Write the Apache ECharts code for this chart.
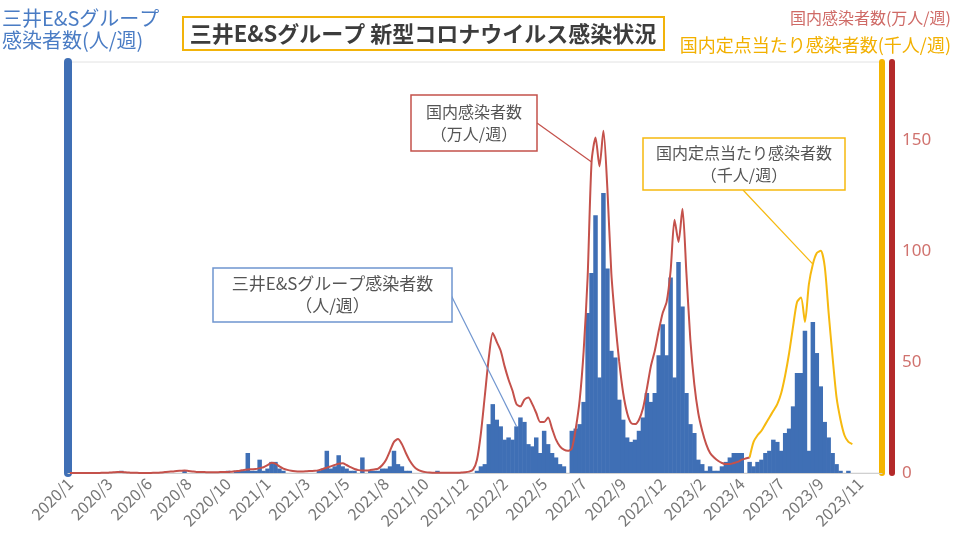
<!DOCTYPE html>
<html>
<head>
<meta charset="utf-8">
<script src="https://cdn.jsdelivr.net/npm/echarts@6/dist/echarts.min.js"></script>
<style>
  html, body { margin: 0; padding: 0; background: #fff; }
  #chart { width: 966px; height: 540px; }
</style>
</head>
<body>
<div id="chart"></div>
<script>
const FONT = '"Noto Sans CJK JP", "Noto Sans", sans-serif';

// weekly categories start on 2020/1/20, one tick label every 10 weeks
const firstWeek = [2020, 0, 20];
const weekCount = 206;
const tickEvery = 10;
const tickLabels = [
  "2020/1", "2020/3", "2020/6", "2020/8", "2020/10", "2021/1", "2021/3",
  "2021/5", "2021/8", "2021/10", "2021/12", "2022/2", "2022/5", "2022/7",
  "2022/9", "2022/12", "2023/2", "2023/4", "2023/7", "2023/9", "2023/11",
];

// 三井E&Sグループ感染者数（人/週）
const mitsuiCases = [
  0, 0, 0, 0, 0, 0, 0, 0, 0, 0,
  0, 0, 0, 1, 0, 0, 0, 0, 0, 0,
  0, 0, 0, 0, 0, 0, 0, 0, 0, 1,
  0, 0, 0, 0, 0, 0, 0, 0, 0, 0,
  1, 0, 1, 1, 1, 9, 1, 1, 6, 1,
  2, 5, 5, 2, 1, 0, 0, 0, 0, 0,
  0, 0, 0, 1, 2, 10, 2, 3, 8, 3,
  2, 1, 1, 0, 7, 0, 1, 1, 1, 2,
  2, 3, 10, 4, 3, 1, 1, 0, 0, 0,
  0, 0, 0, 1, 0, 0, 0, 0, 0, 0,
  0, 0, 0, 1, 3, 4, 22, 31, 24, 21,
  15, 16, 15, 21, 25, 23, 13, 12, 16, 9,
  19, 13, 9, 7, 4, 3, 0, 19, 20, 22,
  32, 72, 90, 116, 43, 126, 92, 55, 52, 33,
  24, 16, 14, 15, 19, 25, 36, 32, 36, 53,
  67, 53, 88, 43, 95, 75, 36, 22, 18, 6,
  4, 1, 3, 1, 1, 3, 5, 7, 9, 9,
  9, 0, 5, 3, 5, 6, 9, 10, 15, 14,
  10, 18, 20, 30, 45, 45, 64, 10, 68, 54,
  39, 23, 16, 9, 4, 1, 0, 1, 0, 0,
  0, 0, 0, 0, 0, 0,
];

// 国内感染者数（万人/週）, reported until week 172
const nationalCases = [
  0, 0, 0, 0, 0, 0, 0, 0, 0.1, 0.1,
  0.2, 0.3, 0.4, 0.4, 0.3, 0.2, 0.1, 0.1, 0, 0,
  0, 0.1, 0.1, 0.2, 0.4, 0.6, 0.7, 0.9, 1.0, 1.1,
  0.9, 0.7, 0.5, 0.4, 0.4, 0.35, 0.35, 0.35, 0.4, 0.4,
  0.5, 0.6, 0.8, 1.0, 1.4, 1.6, 1.7, 1.8, 2.2, 2.6,
  3.5, 4.6, 4.2, 3.0, 2.0, 1.4, 1.0, 0.8, 0.7, 0.7,
  0.8, 0.9, 1.0, 1.3, 1.8, 2.4, 3.0, 3.6, 4.2, 4.4,
  3.6, 2.6, 1.8, 1.3, 1.1, 1.1, 1.3, 1.6, 2.0, 3.5,
  6, 10, 14, 15.3, 13, 9, 5.5, 3, 1.5, 0.8,
  0.4, 0.2, 0.15, 0.1, 0.1, 0.1, 0.1, 0.1, 0.1, 0.2,
  0.3, 0.6, 1.5, 6, 18, 35, 52, 63, 59, 55,
  48, 42, 37, 31, 30, 33, 34, 31, 27, 23,
  23, 25, 20, 15, 12, 10.5, 10, 11, 20, 33,
  55, 88, 140, 151, 138, 154, 128, 90, 68, 50,
  36, 27, 22.5, 22, 24, 29, 38, 48, 55, 64,
  72, 77, 91, 114, 104, 119, 90, 60, 40, 27,
  19, 13, 9, 7, 5.5, 4.5, 4, 4, 4.5, 5,
  6, 6.5, 7,
];

// 国内定点当たり感染者数（千人/週）, from week 172
const sentinelStart = 172;
const sentinelCases = [
  7, 14, 17, 19, 22, 25, 28, 31, 36, 44,
  54, 66, 77, 79, 68, 85, 94, 99, 100, 93,
  72, 52, 34, 24, 17, 14, 13,
];

const BLUE = "#3f6fb5";
const RED = "#c4514b";
const RED_AXIS = "#b42a2a";
const YELLOW = "#f6b90f";
const YELLOW_AXIS = "#f4b400";

function buildWeeks() {
  const out = [];
  for (let i = 0; i < weekCount; i++) {
    const d = new Date(firstWeek[0], firstWeek[1], firstWeek[2] + i * 7);
    out.push(`${d.getFullYear()}/${d.getMonth() + 1}/${d.getDate()}`);
  }
  return out;
}

const weeks = buildWeeks();
const nationalData = weeks.map((_, i) => (i < nationalCases.length ? nationalCases[i] : null));
const sentinelData = weeks.map((_, i) => {
  const k = i - sentinelStart;
  return k >= 0 && k < sentinelCases.length ? sentinelCases[k] : null;
});

const chart = echarts.init(document.getElementById("chart"));

const option = {
  animation: false,
  backgroundColor: "#fff",
  textStyle: { fontFamily: FONT },
  grid: {
    left: 68,
    right: 84,
    top: 62,
    bottom: 67,
    show: true,
    borderColor: "#e2e2e2",
    borderWidth: 1,
  },
  xAxis: {
    type: "category",
    data: weeks,
    boundaryGap: true,
    axisLine: { lineStyle: { color: "#d0d0d0", width: 1 } },
    axisTick: { show: false },
    axisLabel: {
      interval: (idx) => idx % tickEvery === 0,
      formatter: (val, idx) => tickLabels[idx / tickEvery] || "",
      rotate: 45,
      margin: 8,
      color: "#777",
      fontSize: 16,
      fontFamily: FONT,
    },
    splitLine: { show: false },
  },
  yAxis: [
    {
      type: "value",
      position: "left",
      min: 0,
      max: 185,
      axisLine: { show: true, lineStyle: { color: BLUE, width: 8 } },
      axisTick: { show: false },
      axisLabel: { show: false },
      splitLine: { show: false },
    },
    {
      type: "value",
      position: "right",
      min: 0,
      max: 185,
      axisLine: { show: true, lineStyle: { color: YELLOW_AXIS, width: 6 } },
      axisTick: { show: false },
      axisLabel: { show: false },
      splitLine: { show: false },
    },
    {
      type: "value",
      position: "right",
      offset: 10,
      min: 0,
      max: 185,
      interval: 50,
      axisLine: { show: true, lineStyle: { color: RED_AXIS, width: 6 } },
      axisTick: { show: false },
      axisLabel: {
        showMaxLabel: false,
        margin: 10,
        color: "#d0726e",
        fontSize: 17,
        fontFamily: "Noto Sans",
      },
      splitLine: { show: false },
    },
  ],
  series: [
    {
      name: "三井E&Sグループ感染者数",
      type: "bar",
      yAxisIndex: 0,
      data: mitsuiCases,
      barWidth: 4.5,
      itemStyle: { color: BLUE },
    },
    {
      name: "国内感染者数",
      type: "line",
      yAxisIndex: 2,
      data: nationalData,
      smooth: 0.25,
      symbol: "none",
      lineStyle: { color: RED, width: 2 },
    },
    {
      name: "国内定点当たり感染者数",
      type: "line",
      yAxisIndex: 1,
      data: sentinelData,
      smooth: 0.25,
      symbol: "none",
      lineStyle: { color: YELLOW, width: 2 },
    },
  ],
};

chart.setOption(option);

// annotation boxes with leader lines pointing into the series
function callout(box, color, lines, fontSize, target) {
  const end = chart.convertToPixel({ seriesIndex: target.series }, [target.index, target.value]);
  const start = target.from;
  return [
    {
      type: "line",
      z: 50,
      shape: { x1: start[0], y1: start[1], x2: end[0], y2: end[1] },
      style: { stroke: color, lineWidth: 1.2 },
    },
    {
      type: "rect",
      z: 51,
      shape: { x: box[0], y: box[1], width: box[2], height: box[3] },
      style: { fill: "#fff", stroke: color, lineWidth: 1.5 },
    },
    {
      type: "text",
      z: 52,
      x: box[0] + box[2] / 2,
      y: box[1] + box[3] / 2,
      style: {
        text: lines.join("\n"),
        font: `${fontSize}px ${FONT}`,
        fill: "#555",
        align: "center",
        verticalAlign: "middle",
        lineHeight: 22,
      },
    },
  ];
}

const graphics = [
  {
    type: "rect",
    z: 60,
    shape: { x: 183, y: 17, width: 481, height: 33 },
    style: { fill: "#fff", stroke: "#f2b30a", lineWidth: 2 },
  },
  {
    type: "text",
    z: 61,
    x: 423,
    y: 34,
    style: {
      text: "三井E&Sグループ 新型コロナウイルス感染状況",
      font: `bold 22px ${FONT}`,
      fill: "#3c3c3c",
      align: "center",
      verticalAlign: "middle",
    },
  },
  {
    type: "text",
    z: 61,
    x: 2,
    y: 7,
    style: {
      text: "三井E&Sグループ\n感染者数(人/週)",
      font: `20px ${FONT}`,
      fill: "#4a7cc4",
      lineHeight: 22,
    },
  },
  {
    type: "text",
    z: 61,
    x: 951,
    y: 10,
    style: {
      text: "国内感染者数(万人/週)",
      font: `16px ${FONT}`,
      fill: "#cf6a66",
      align: "right",
    },
  },
  {
    type: "text",
    z: 61,
    x: 951,
    y: 36,
    style: {
      text: "国内定点当たり感染者数(千人/週)",
      font: `18px ${FONT}`,
      fill: "#f2b000",
      align: "right",
    },
  },
  ...callout([411, 95, 126, 56], RED, ["国内感染者数", "（万人/週）"], 16,
    { series: 1, index: 132, value: nationalCases[132], from: [537, 123] }),
  ...callout([643, 138, 202, 52], YELLOW, ["国内定点当たり感染者数", "（千人/週）"], 16,
    { series: 2, index: 188, value: sentinelCases[188 - sentinelStart], from: [743, 190] }),
  ...callout([213, 268, 239, 54], "#6f95cf", ["三井E&Sグループ感染者数", "（人/週）"], 17,
    { series: 0, index: 113, value: mitsuiCases[113], from: [451, 295] }),
];

chart.setOption({ graphic: graphics });
</script>
</body>
</html>
